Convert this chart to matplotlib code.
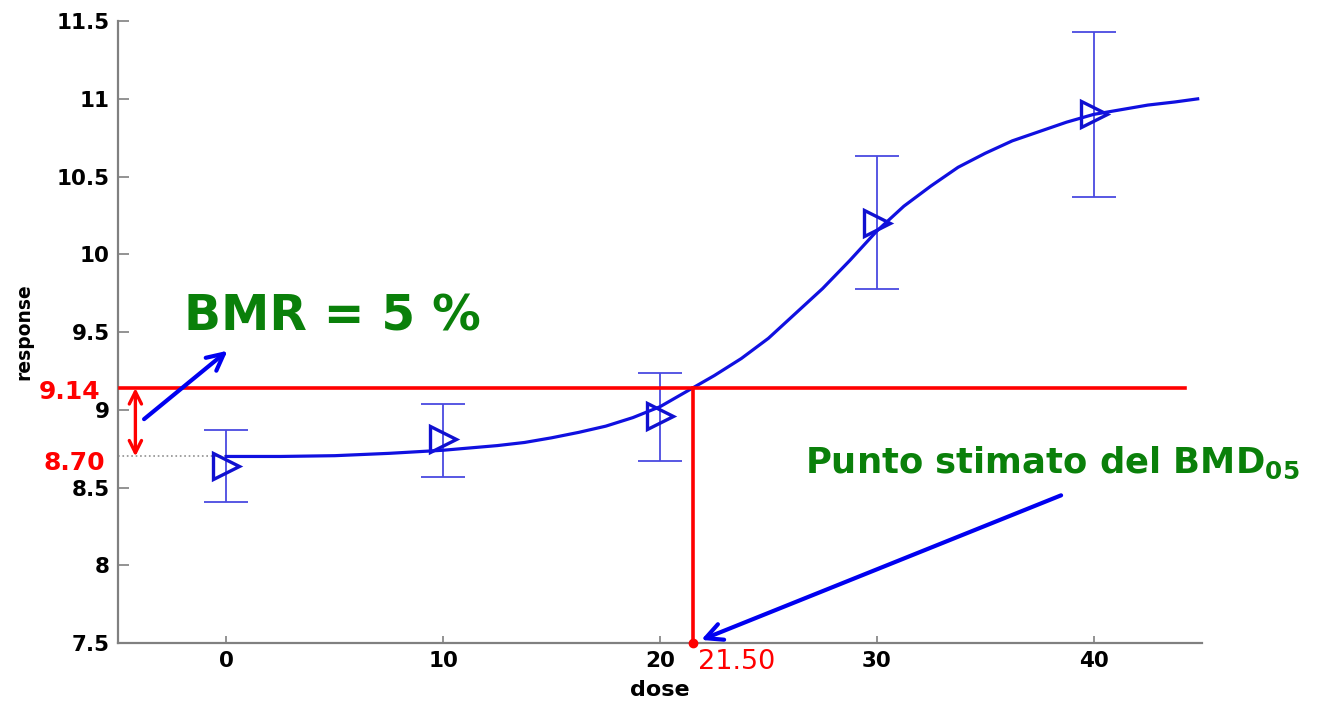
import matplotlib.pyplot as plt

# observed dose groups: mean response and error bar limits
dose = [0, 10, 20, 30, 40]
resp_mean = [8.64, 8.81, 8.96, 10.20, 10.90]
resp_low = [8.41, 8.57, 8.67, 9.78, 10.37]
resp_high = [8.87, 9.04, 9.24, 10.63, 11.43]

# fitted curve
curve_dose = [0, 2.5, 5, 7.5, 10, 11.25, 12.5, 13.75, 15, 16.25, 17.5, 18.75,
              20, 21.5, 22.5, 23.75, 25, 26.25, 27.5, 28.75, 30, 31.25, 32.5,
              33.75, 35, 36.25, 37.5, 38.75, 40, 41.25, 42.5, 43.75, 44.8]
curve_resp = [8.70, 8.70, 8.705, 8.72, 8.74, 8.755, 8.77, 8.79, 8.82, 8.855,
              8.895, 8.95, 9.02, 9.14, 9.22, 9.33, 9.46, 9.62, 9.78, 9.96,
              10.15, 10.31, 10.44, 10.56, 10.65, 10.73, 10.79, 10.85, 10.90,
              10.93, 10.96, 10.98, 11.00]

bg_level = 8.70
bmr_level = 9.14
bmd = 21.50

x_ticks = [0, 10, 20, 30, 40]
y_ticks = [7.5, 8, 8.5, 9, 9.5, 10, 10.5, 11, 11.5]
y_ticklabels = ["7.5", "8", "8.5", "9", "9.5", "10", "10.5", "11", "11.5"]

GREEN = "#0a800a"
RED = "#ff0000"
BLUE = "#0000f0"
AXIS = "#808080"

fig = plt.figure(figsize=(13.19, 7.04), dpi=100)
ax = fig.add_axes([0.0895, 0.0866, 0.8218, 0.8834])

ax.set_xlim(-5, 45)
ax.set_ylim(7.5, 11.5)

# error bars and markers
yerr = [[m - lo for m, lo in zip(resp_mean, resp_low)],
        [hi - m for m, hi in zip(resp_mean, resp_high)]]
ax.errorbar(dose, resp_mean, yerr=yerr, fmt="none", ecolor="#4a4ae0",
            elinewidth=1.3, capsize=16, capthick=1.3, zorder=3)
ax.plot(dose, resp_mean, ">", ms=19, mfc="none", mec="#1010d0", mew=2.4,
        zorder=4)

ax.plot(curve_dose, curve_resp, color="#1010e0", lw=2.3,
        solid_joinstyle="round", zorder=5)

# background dotted line
ax.plot([-5, 0], [bg_level, bg_level], ":", color="#909090", lw=1.2, zorder=2)

# BMR / BMD red guides
ax.plot([-4.9, 44.2], [bmr_level, bmr_level], color=RED, lw=2.6, zorder=6)
ax.plot([bmd, bmd], [7.5, bmr_level], color=RED, lw=2.6, zorder=6)
ax.plot([bmd], [7.5], "o", color=RED, ms=6, clip_on=False, zorder=7)
ax.annotate("", xy=(-4.2, bg_level), xytext=(-4.2, bmr_level),
            arrowprops=dict(arrowstyle="<->", color=RED, lw=2.4,
                            mutation_scale=22, shrinkA=0, shrinkB=0),
            zorder=7)

# blue arrows
ax.annotate("", xy=(0.05, 9.38), xytext=(-3.8, 8.94),
            arrowprops=dict(arrowstyle="->", color=BLUE, lw=3,
                            mutation_scale=30, shrinkA=0, shrinkB=0),
            zorder=7)
ax.annotate("", xy=(21.9, 7.52), xytext=(38.5, 8.45),
            arrowprops=dict(arrowstyle="->", color=BLUE, lw=3,
                            mutation_scale=30, shrinkA=0, shrinkB=0),
            zorder=7)

# text
ax.text(4.9, 9.60, "BMR = 5 %", color=GREEN, fontsize=35,
        fontweight="bold", ha="center", va="center", family="DejaVu Sans")
ax.text(26.7, 8.66, r"Punto stimato del BMD$_{\mathbf{05}}$", color=GREEN,
        fontsize=25.5, fontweight="bold", ha="left", va="center",
        family="DejaVu Sans")
ax.text(21.75, 7.38, "21.50", color=RED, fontsize=19.5, ha="left",
        va="center", family="DejaVu Sans", clip_on=False)
ax.text(-7.25, 9.115, "9.14", color=RED, fontsize=18, fontweight="bold",
        ha="center", va="center", clip_on=False)
ax.text(-7.0, 8.66, "8.70", color=RED, fontsize=18, fontweight="bold",
        ha="center", va="center", clip_on=False)

# axes styling
for side in ["top", "right"]:
    ax.spines[side].set_visible(False)
for side in ["left", "bottom"]:
    ax.spines[side].set_color(AXIS)
    ax.spines[side].set_linewidth(1.6)

ax.set_xticks(x_ticks)
ax.set_yticks(y_ticks)
ax.set_yticklabels(y_ticklabels)
ax.tick_params(axis="y", direction="in", length=8, width=1.2, color=AXIS,
               labelsize=15.5, pad=6)
ax.tick_params(axis="x", direction="in", length=5, width=1.2, color=AXIS,
               labelsize=15.5, pad=6)
for lab in ax.get_xticklabels() + ax.get_yticklabels():
    lab.set_fontweight("bold")

ax.set_xlabel("dose", fontsize=16, fontweight="bold")
ax.xaxis.set_label_coords(0.5, -0.06)
ax.set_ylabel("response", fontsize=13.5, fontweight="bold")
ax.yaxis.set_label_coords(-0.078, 0.5)

fig.savefig("out.png", dpi=100, facecolor="white")
